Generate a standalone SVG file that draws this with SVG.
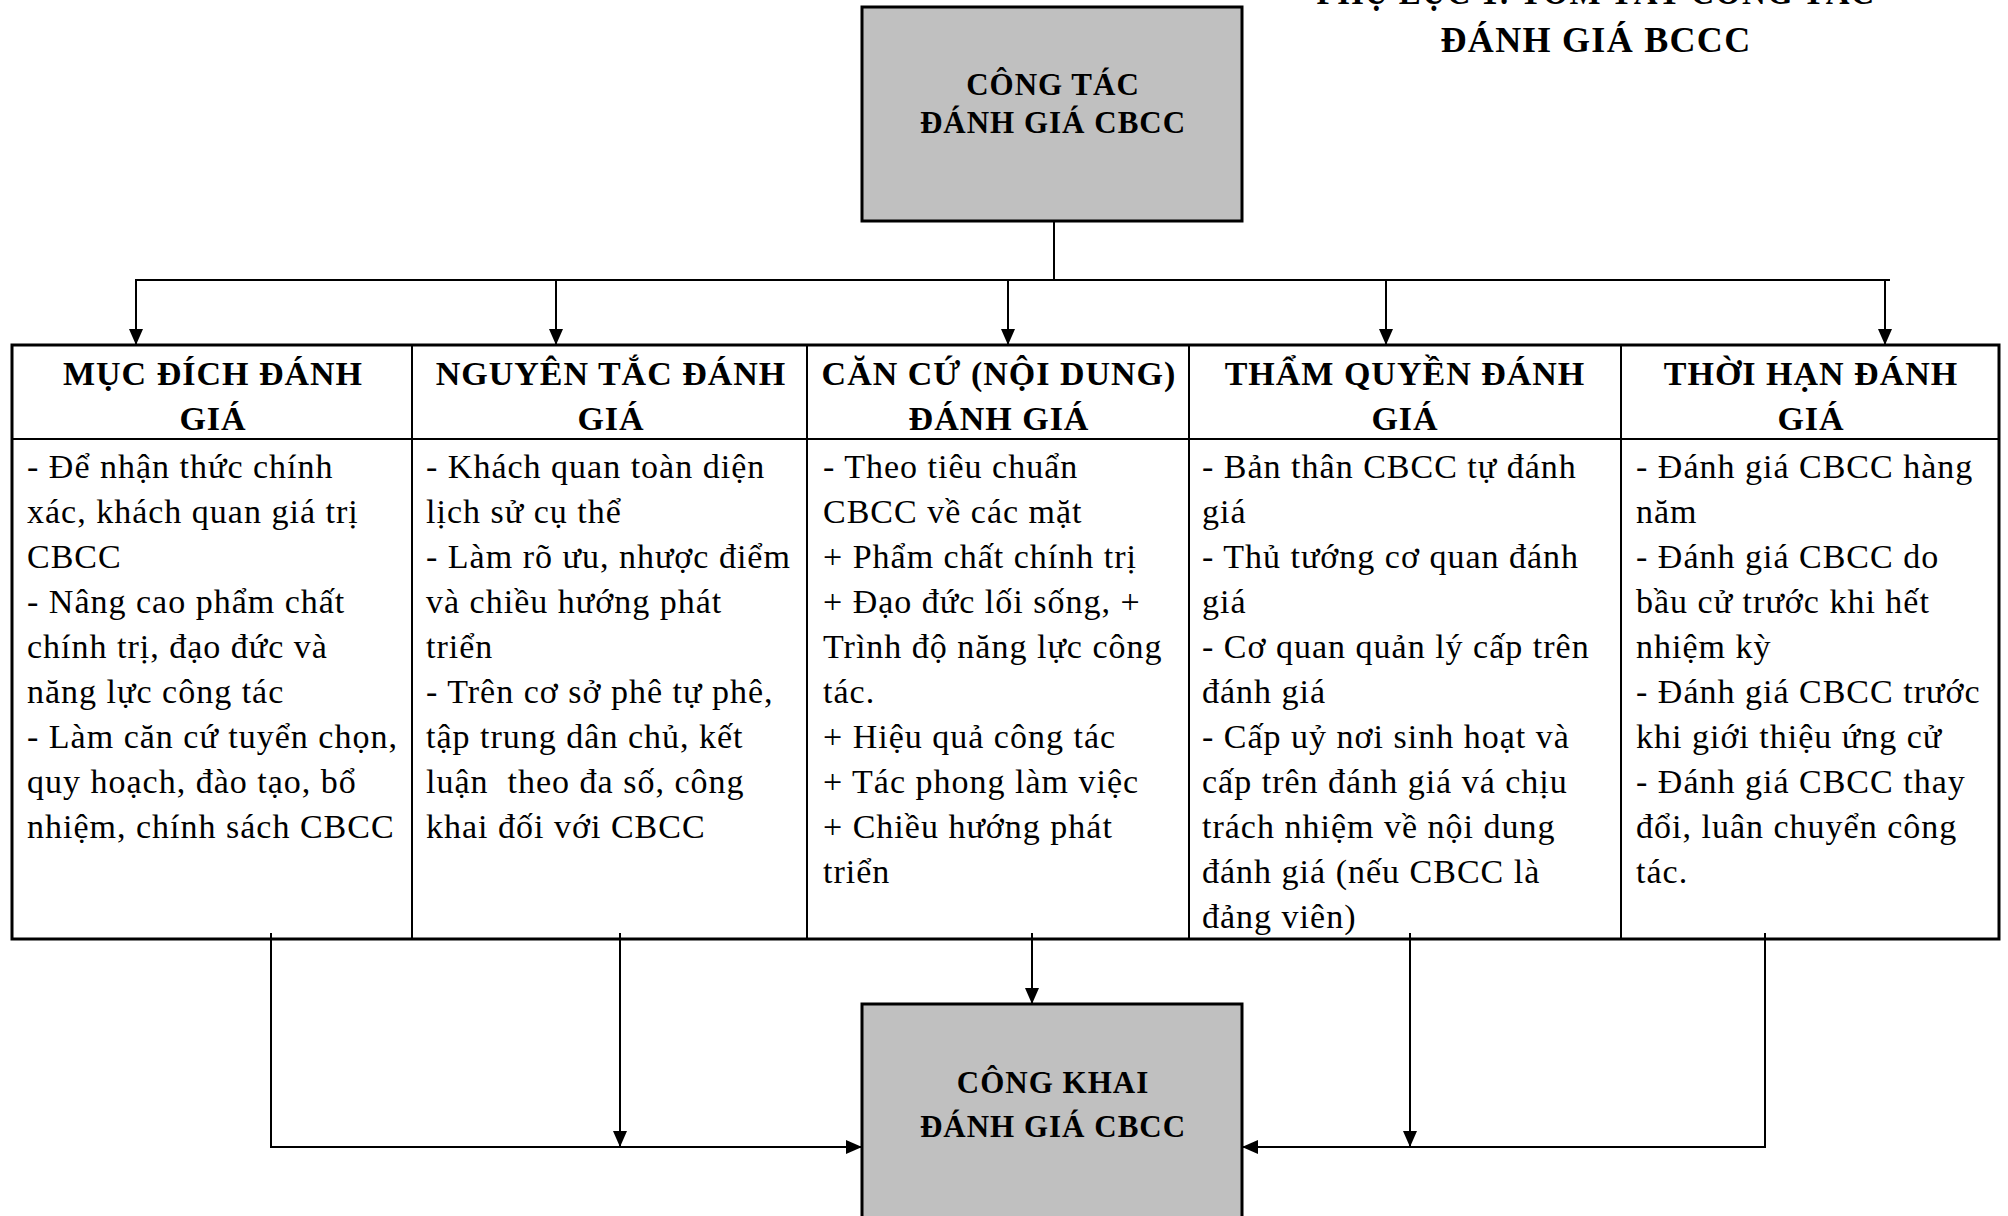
<svg xmlns="http://www.w3.org/2000/svg" width="2008" height="1216" viewBox="0 0 2008 1216">
<style>
.bx{fill:#c0c0c0;stroke:#000;stroke-width:3}
.tbl{fill:#fff;stroke:#000;stroke-width:3}
.div{stroke:#000;stroke-width:2}
.cn{fill:none;stroke:#000;stroke-width:2}
.bt{font-family:"Liberation Serif","Times New Roman",serif;font-weight:bold;font-size:31px;letter-spacing:1px;text-anchor:middle;fill:#000}
.hd{font-family:"Liberation Serif","Times New Roman",serif;font-weight:bold;font-size:34px;letter-spacing:1px;text-anchor:middle;fill:#000}
.tt{font-family:"Liberation Serif","Times New Roman",serif;font-weight:bold;font-size:36px;letter-spacing:1.3px;text-anchor:middle;fill:#000}
.bd{font-family:"Liberation Serif","Times New Roman",serif;font-size:34px;letter-spacing:1px;fill:#000}
</style>
<defs>
<marker id="ah" markerUnits="userSpaceOnUse" markerWidth="16" markerHeight="14" refX="16" refY="7" orient="auto">
<path d="M0,0 L16,7 L0,14 z" fill="#000"/>
</marker>
</defs>
<rect width="2008" height="1216" fill="#fff"/>

<g id="title">
<text class="tt" x="1596" y="4" textLength="559" lengthAdjust="spacingAndGlyphs">PHỤ LỤC 1: TÓM TẮT CÔNG TÁC</text>
<text class="tt" x="1596" y="52">ĐÁNH GIÁ BCCC</text>
</g>

<g id="node-top">
<rect class="bx" x="862" y="7" width="380" height="214"/>
<text class="bt" x="1053" y="95">CÔNG TÁC</text>
<text class="bt" x="1053" y="133">ĐÁNH GIÁ CBCC</text>
</g>

<g id="table">
<rect class="tbl" x="12" y="345" width="1987" height="594"/>
<line class="div" x1="12" y1="439" x2="1999" y2="439"/>
<line class="div" x1="412" y1="345" x2="412" y2="939"/>
<line class="div" x1="807" y1="345" x2="807" y2="939"/>
<line class="div" x1="1189" y1="345" x2="1189" y2="939"/>
<line class="div" x1="1621" y1="345" x2="1621" y2="939"/>
</g>

<g id="col-mucdich">
<text class="hd" x="213" y="385">MỤC ĐÍCH ĐÁNH</text>
<text class="hd" x="213" y="430">GIÁ</text>
<text class="bd" x="27" y="478">- Để nhận thức chính</text>
<text class="bd" x="27" y="523">xác, khách quan giá trị</text>
<text class="bd" x="27" y="568">CBCC</text>
<text class="bd" x="27" y="613">- Nâng cao phẩm chất</text>
<text class="bd" x="27" y="658">chính trị, đạo đức và</text>
<text class="bd" x="27" y="703">năng lực công tác</text>
<text class="bd" x="27" y="748">- Làm căn cứ tuyển chọn,</text>
<text class="bd" x="27" y="793">quy hoạch, đào tạo, bổ</text>
<text class="bd" x="27" y="838">nhiệm, chính sách CBCC</text>
</g>

<g id="col-nguyentac">
<text class="hd" x="611" y="385">NGUYÊN TẮC ĐÁNH</text>
<text class="hd" x="611" y="430">GIÁ</text>
<text class="bd" x="426" y="478">- Khách quan toàn diện</text>
<text class="bd" x="426" y="523">lịch sử cụ thể</text>
<text class="bd" x="426" y="568">- Làm rõ ưu, nhược điểm</text>
<text class="bd" x="426" y="613">và chiều hướng phát</text>
<text class="bd" x="426" y="658">triển</text>
<text class="bd" x="426" y="703">- Trên cơ sở phê tự phê,</text>
<text class="bd" x="426" y="748">tập trung dân chủ, kết</text>
<text class="bd" x="426" y="793" xml:space="preserve">luận  theo đa số, công</text>
<text class="bd" x="426" y="838">khai đối với CBCC</text>
</g>

<g id="col-cancu">
<text class="hd" x="999" y="385">CĂN CỨ (NỘI DUNG)</text>
<text class="hd" x="999" y="430">ĐÁNH GIÁ</text>
<text class="bd" x="823" y="478">- Theo tiêu chuẩn</text>
<text class="bd" x="823" y="523">CBCC về các mặt</text>
<text class="bd" x="823" y="568">+ Phẩm chất chính trị</text>
<text class="bd" x="823" y="613">+ Đạo đức lối sống, +</text>
<text class="bd" x="823" y="658">Trình độ năng lực công</text>
<text class="bd" x="823" y="703">tác.</text>
<text class="bd" x="823" y="748">+ Hiệu quả công tác</text>
<text class="bd" x="823" y="793">+ Tác phong làm việc</text>
<text class="bd" x="823" y="838">+ Chiều hướng phát</text>
<text class="bd" x="823" y="883">triển</text>
</g>

<g id="col-thamquyen">
<text class="hd" x="1405" y="385">THẨM QUYỀN ĐÁNH</text>
<text class="hd" x="1405" y="430">GIÁ</text>
<text class="bd" x="1202" y="478">- Bản thân CBCC tự đánh</text>
<text class="bd" x="1202" y="523">giá</text>
<text class="bd" x="1202" y="568">- Thủ tướng cơ quan đánh</text>
<text class="bd" x="1202" y="613">giá</text>
<text class="bd" x="1202" y="658">- Cơ quan quản lý cấp trên</text>
<text class="bd" x="1202" y="703">đánh giá</text>
<text class="bd" x="1202" y="748">- Cấp uỷ nơi sinh hoạt và</text>
<text class="bd" x="1202" y="793">cấp trên đánh giá vá chịu</text>
<text class="bd" x="1202" y="838">trách nhiệm về nội dung</text>
<text class="bd" x="1202" y="883">đánh giá (nếu CBCC là</text>
<text class="bd" x="1202" y="928">đảng viên)</text>
</g>

<g id="col-thoihan">
<text class="hd" x="1811" y="385">THỜI HẠN ĐÁNH</text>
<text class="hd" x="1811" y="430">GIÁ</text>
<text class="bd" x="1636" y="478">- Đánh giá CBCC hàng</text>
<text class="bd" x="1636" y="523">năm</text>
<text class="bd" x="1636" y="568">- Đánh giá CBCC do</text>
<text class="bd" x="1636" y="613">bầu cử trước khi hết</text>
<text class="bd" x="1636" y="658">nhiệm kỳ</text>
<text class="bd" x="1636" y="703">- Đánh giá CBCC trước</text>
<text class="bd" x="1636" y="748">khi giới thiệu ứng cử</text>
<text class="bd" x="1636" y="793">- Đánh giá CBCC thay</text>
<text class="bd" x="1636" y="838">đổi, luân chuyển công</text>
<text class="bd" x="1636" y="883">tác.</text>
</g>

<g id="node-bottom">
<rect class="bx" x="862" y="1004" width="380" height="240"/>
<text class="bt" x="1053" y="1093">CÔNG KHAI</text>
<text class="bt" x="1053" y="1137">ĐÁNH GIÁ CBCC</text>
</g>

<g id="connectors">
<line class="cn" x1="1054" y1="221" x2="1054" y2="280"/>
<line class="cn" x1="135" y1="280" x2="1890" y2="280"/>
<line class="cn" x1="136" y1="280" x2="136" y2="345" marker-end="url(#ah)"/>
<line class="cn" x1="556" y1="280" x2="556" y2="345" marker-end="url(#ah)"/>
<line class="cn" x1="1008" y1="280" x2="1008" y2="345" marker-end="url(#ah)"/>
<line class="cn" x1="1386" y1="280" x2="1386" y2="345" marker-end="url(#ah)"/>
<line class="cn" x1="1885" y1="280" x2="1885" y2="345" marker-end="url(#ah)"/>
<polyline class="cn" points="271,933 271,1147 862,1147" marker-end="url(#ah)"/>
<line class="cn" x1="620" y1="933" x2="620" y2="1147" marker-end="url(#ah)"/>
<line class="cn" x1="1032" y1="933" x2="1032" y2="1004" marker-end="url(#ah)"/>
<line class="cn" x1="1410" y1="933" x2="1410" y2="1147" marker-end="url(#ah)"/>
<polyline class="cn" points="1765,933 1765,1147 1242,1147" marker-end="url(#ah)"/>
</g>
</svg>
